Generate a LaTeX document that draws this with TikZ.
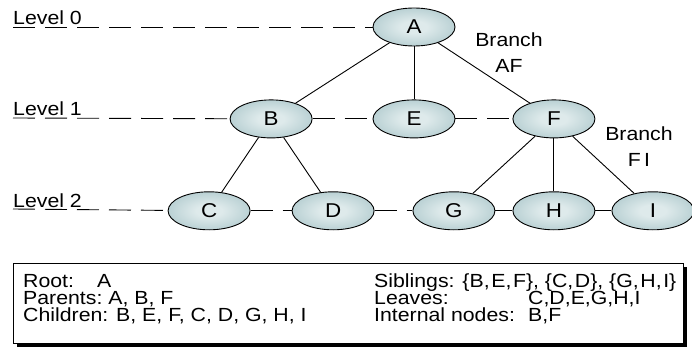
\documentclass[tikz,border=0pt]{standalone}
\usepackage{fontspec}
\setmainfont{Liberation Sans}[FakeStretch=1.12]
\usepackage{tikz}
\usetikzlibrary{positioning,shapes.geometric,shadows}
\definecolor{nodelight}{RGB}{222,234,235}
\definecolor{nodedark}{RGB}{150,184,189}
\pgfdeclareradialshading{nodeshade}{\pgfpoint{0bp}{0bp}}{color(0bp)=(nodelight); color(8bp)=(nodelight); color(42bp)=(nodedark); color(50bp)=(nodedark)}
\tikzset{
  treenode/.style={ellipse,draw,line width=0.9pt,shading=nodeshade,minimum width=82pt,minimum height=38pt,inner sep=0pt,font=\fontsize{20}{22}\selectfont},
  edge/.style={line width=0.9pt},
  levelline/.style={line width=0.9pt,dash pattern=on 22pt off 10pt},
  levellabel/.style={anchor=base west,inner sep=0pt,font=\fontsize{19}{22}\selectfont},
  branchlabel/.style={align=center,inner sep=0pt,font=\fontsize{19}{26}\selectfont},
  infobox/.style={draw,fill=white,line width=0.8pt,minimum width=670pt,minimum height=80pt,drop shadow={shadow xshift=4pt,shadow yshift=-4pt,fill=black,opacity=1}},
  infoline/.style={anchor=base west,inner sep=0pt,font=\fontsize{19}{17}\selectfont}
}
\newcommand{\cs}{,\kern1.6pt}

\begin{document}
\begin{tikzpicture}[x=1pt,y=1pt,node distance=53pt and 60pt]
\useasboundingbox (0,0) rectangle (692,351);

\node[treenode] (A) at (414,324) {A};
\node[treenode,below=of A] (E) {E};
\node[treenode,left=of E] (B) {B};
\node[treenode,right=of E,xshift=-3pt] (F) {F};

\node[treenode,below=of B,xshift=-62pt] (C) {C};
\node[treenode,below=of B,xshift=62pt] (D) {D};
\node[treenode,below=of F,xshift=-100pt] (G) {G};
\node[treenode,below=of F] (H) {H};
\node[treenode,below=of F,xshift=99pt] (I) {I};

\coordinate (lev0) at (13,324);
\coordinate (lev1) at (13,233);
\coordinate (lev2) at (13,142);
\node[levellabel] (lab0) at (13,326) {Level 0};
\node[levellabel] (lab1) at (13,235) {Level 1};
\node[levellabel] (lab2) at (13,144) {Level 2};

\draw[levelline] (lev0)--(A);
\draw[levelline] (lev1)--(B);
\draw[levelline] (B)--(E);
\draw[levelline] (E)--(F);
\draw[levelline] (lev2)--(C);
\draw[levelline] (C)--(D);
\draw[levelline] (D)--(G);
\draw[levelline] (G)--(H);
\draw[levelline] (H)--(I);

\draw[edge] (A)--(B);
\draw[edge] (A)--(E);
\draw[edge] (A)--(F);
\draw[edge] (B)--(C);
\draw[edge] (B)--(D);
\draw[edge] (F)--(G);
\draw[edge] (F)--(H);
\draw[edge] (F)--(I);

\node[branchlabel] (brAF) at (509,298) {Branch\\AF};
\node[branchlabel] (brFI) at (639,204) {Branch\\F\,I};

\node[infobox] (legend) at (348,48) {};
\node[infoline] (root) at (23,64) {\makebox[74pt][l]{Root:}A};
\node[infoline] (parents) at (23,47) {Parents:\ A, B, F};
\node[infoline] (children) at (23,30) {Children: B, E, F, C, D, G, H, I};
\node[infoline] (siblings) at (374,64) {Siblings: \{B\cs E\cs F\}, \{C\cs D\}, \{G\cs H\cs I\}};
\node[infoline] (leaves) at (374,47) {\makebox[154pt][l]{Leaves:}C,D,E,G,H,I};
\node[infoline] (internal) at (374,30) {\makebox[154pt][l]{Internal nodes:}B,F};
\end{tikzpicture}
\end{document}
